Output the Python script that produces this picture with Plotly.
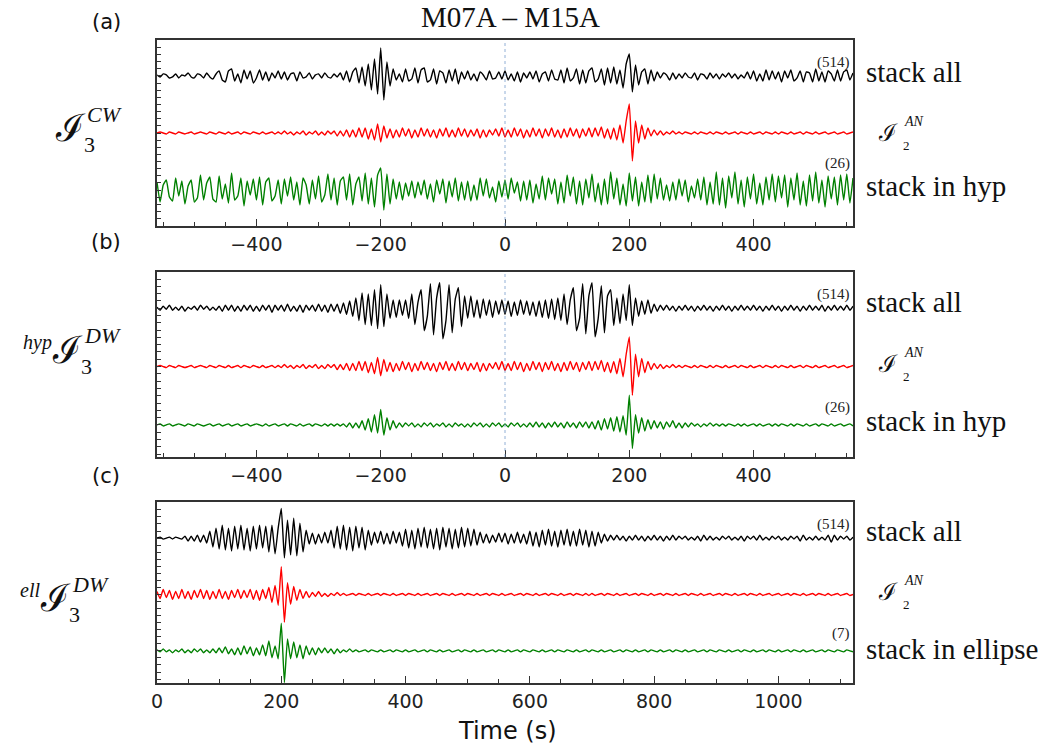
import numpy as np
import plotly.graph_objects as go

# ---------------- data (amplitudes, arbitrary units) ----------------
# lag time grid for panels (a),(b): -560..560 s ; panel (c): 0..1120 s (5 s sampling)
lag_time = np.arange(-560, 561, 5)
causal_time = np.arange(0, 1121, 5)

a_stack_all = (
    [1,-1,2,1,-2,-1,2,-2,1,0,3,-1,-2,2,1,-2,3,-1,-3,2] +
    [5,-4,-6,5,7,-5,2,-7,6,-3,5,-7,-2,6,-4,4,-5,3,-2,5] +
    [-3,4,-4,2,3,-5,4,-2,-1,3,-3,1,2,-2,3,-1,-2,2,-1,3] +
    [-4,5,-6,4,8,-7,9,-10,12,-14,17,-18,28,-24,14,-10,7,-4,2,-6] +
    [7,-5,-3,8,-7,6,8,-6,-4,7,-8,5,3,-7,6,-5,7,-8,4,-3] +
    [5,-4,2,-5,4,1,-4,5,-3,-2,4,-3,5,-4,2,-5,4,-6,3,-2] +
    [4,-3,5,-6,2,4,-5,6,-3,-4,6,-7,8,-5,-2,7,-8,6,-7,5] +
    [8,-6,-3,7,-9,8,-7,9,-8,6,-12,12,22,-16,11,-9,4,7,-8,6] +
    [-5,4,-2,3,1,-4,3,-3,2,-2,3,-1,-2,3,-4,2,1,-3,3,-2] +
    [2,-3,2,-1,3,-2,2,-3,1,-2,4,-3,5,-5,2,-5,6,-4,5,-3] +
    [4,-6,5,-2,6,-5,-2,5,-6,4,3,-6,7,-5,4,-6,5,2,-5,6] +
    [-5,4,6,-4,3]
)

ab_i2an = (
    [0,1,0,-1,1,0,-1,1,0,-1,0,1,-1,0,1,0,-1,1,0,-1] +
    [1,0,-1,1,-1,0,1,-1,1,0,-1,1,0,-1,1,-1,0,1,-1,1] +
    [-1,2,-1,1,-2,1,-1,2,-2,1,-1,2,-2,1,-2,2,-1,2,-3,2] +
    [-3,3,-4,3,-4,5,-4,5,-6,4,-7,9,-9,7,-5,4,-5,3,-4,5] +
    [-3,4,-5,3,-4,5,-3,4,-4,3,-5,4,-3,5,-4,3,-4,5,-3,4] +
    [-4,3,-3,4,-5,3,-4,3,-2,4,-3,5,-4,3,-4,5,-3,4,-5,3] +
    [-4,5,-3,4,-5,4,-3,5,-4,3,-5,4,-4,5,-3,4,-5,4,-3,5] +
    [-4,5,-3,6,-5,4,-6,5,-7,8,-10,12,29,-28,12,-10,8,-6,5,-3] +
    [3,-2,2,-2,1,-1,2,-1,1,-1,1,0,-1,1,-1,1,0,-1,1,-1] +
    [1,0,-1,1,-1,0,1,-1,1,0,-1,1,-1,0,1,-1,1,0,-1,1] +
    [-1,1,0,-1,1,-1,0,1,-1,1,0,-1,1,-1,0,1,-1,0,1,-1] +
    [0,1,-1,0,1]
)

a_stack_hyp = (
    [8,-12,5,10,-7,-11,12,-6,9,-14,4,10,-12,-8,15,-10,7,13,-9,-12] +
    [14,-9,6,-13,17,-10,-6,12,-16,9,-5,11,-10,13,-15,8,12,-11,-6,10] +
    [-14,11,-6,13,-10,8,-15,12,5,-14,10,-9,14,-12,-5,16,-10,12,-15,9] +
    [13,-10,16,-15,6,13,-11,17,-14,12,-17,15,22,-20,16,-14,11,-9,8,-10] +
    [7,-6,9,-8,8,-5,10,-9,6,-12,10,-4,11,-13,9,-7,12,-11,8,-10] +
    [9,-11,5,-10,12,-6,11,-8,3,-12,9,-7,10,-9,12,-3,8,-11,9,-10] +
    [10,-13,6,-9,14,-10,12,-4,11,-14,8,-13,15,-6,13,-14,9,-15,11,-8] +
    [16,-12,7,-15,11,-14,18,-9,12,-15,6,-16,17,-11,13,-16,8,-12,15,-13] +
    [16,-9,12,-10,5,-11,8,-10,11,-6,10,-12,4,-8,11,-10,13,-15,8,-14] +
    [18,-15,12,-18,14,-8,18,-14,10,-17,13,-9,16,-14,7,-15,13,-10,16,-12] +
    [14,-8,15,-17,12,-10,17,-15,9,-16,15,-11,18,-13,10,-17,14,-9,13,-15] +
    [15,-10,16,-13,12]
)

b_stack_all = (
    [1,-2,2,-1,3,-2,1,-2,2,-3,1,-1,2,-2,3,-1,2,-2,1,-2] +
    [2,-3,3,-2,3,-3,2,-3,3,-2,3,-3,2,-3,3,-2,3,-4,3,-2] +
    [3,-3,4,-3,2,-3,3,-4,3,-2,3,-3,4,-3,3,-4,4,-3,4,-5] +
    [5,-6,7,-8,10,-12,15,-16,14,-17,18,-20,23,-18,14,-10,8,-9,8,-7] +
    [8,-10,14,-16,6,18,-22,-8,24,-26,10,25,-30,-12,23,-24,9,20,-18,12] +
    [-10,12,-9,8,-10,9,-7,8,-9,7,-6,8,-6,7,-8,6,-7,8,-6,7] +
    [-7,6,-8,7,-9,8,-10,9,-11,10,-12,14,-16,8,20,-22,-10,24,-25,12] +
    [25,-28,-10,22,-24,12,18,-17,10,-15,14,-12,23,-17,10,-8,7,-6,8,-5] +
    [4,-3,3,-2,3,-2,2,-3,2,-2,3,-2,2,-3,2,-2,3,-2,2,-3] +
    [2,-2,3,-2,2,-3,2,-2,3,-2,2,-2,3,-2,2,-3,2,-2,3,-2] +
    [2,-3,2,-2,3,-2,2,-3,2,-2,3,-2,2,-2,3,-3,2,-2,3,-2] +
    [2,-2,3,-2,2]
)

b_stack_hyp = (
    [0,1,-1,0,1,-1,0,1,0,-1,1,0,-1,1,0,-1,0,1,-1,0] +
    [1,-1,0,1,-1,0,1,-1,0,1,-1,0,1,0,-1,1,-1,0,1,-1] +
    [0,1,-1,1,0,-1,1,-1,0,1,-1,1,0,-1,1,-1,1,-1,1,-1] +
    [1,-2,2,-3,2,-3,4,-5,6,-7,10,-8,15,-10,7,-5,4,-3,2,-2] +
    [2,-1,2,-2,1,-2,2,-1,2,-2,1,-1,2,-2,1,-2,2,-1,1,-2] +
    [1,-2,2,-1,2,-2,1,-2,2,-1,2,-2,1,-2,2,-1,2,-2,1,-2] +
    [2,-2,3,-2,2,-3,2,-2,3,-2,2,-3,3,-2,2,-3,3,-2,3,-3] +
    [3,-4,4,-5,6,-4,7,-6,8,-7,9,-10,29,-23,10,-8,7,-6,5,-4] +
    [4,-3,3,-4,3,-2,4,-3,2,-3,2,-2,2,-1,1,-2,1,-1,2,-1] +
    [1,-1,1,-1,1,0,-1,1,-1,1,-1,0,1,-1,1,-1,0,1,-1,1] +
    [-1,1,0,-1,1,-1,1,0,-1,1,-1,0,1,-1,1,0,-1,1,-1,0] +
    [1,-1,0,1,-1]
)

c_stack_all = (
    [0,1,-1,0,1,-1,1,0,-1,2,-3,2,-3,3,-4,3,-5,7,-9,10] +
    [-11,13,-12,10,-13,12,-11,13,-12,10,-13,12,-11,13,-10,12,-14,13,-16,10] +
    [30,-20,18,-17,20,-18,15,-14,8,-6,5,-6,4,-5,6,-5,8,-10,12,-11] +
    [13,-12,11,-13,12,-10,11,-12,8,-7,6,-5,7,-6,5,-6,7,-5,6,-8] +
    [9,-10,8,-11,10,-9,11,-10,9,-11,10,-12,11,-9,10,-11,9,-10,11,-9] +
    [10,-8,9,-7,6,-5,4,-5,3,-4,5,-4,5,-6,4,-5,6,-5,4,-6] +
    [7,-8,6,-9,8,-7,9,-8,7,-9,8,-7,9,-8,7,-8,9,-7,8,-9] +
    [7,-8,6,-5,4,-3,3,-2,3,-2,2,-3,2,-2,3,-2,2,-3,2,-2] +
    [3,-2,2,-3,2,-2,3,-2,2,-1,2,-2,1,-2,2,-3,3,-2,2,-2] +
    [1,-2,2,-1,2,-2,1,-2,2,-3,2,-1,2,-2,3,-2,1,-2,2,-1] +
    [2,-2,1,-2,2,-1,2,-3,3,-2,1,-2,2,-2,1,-2,3,-4,3,-2] +
    [2,-1,2,-2,1]
)

c_i2an = (
    [3,-4,5,-3,4,-5,3,-4,5,-4,3,-5,4,-3,5,-4,4,-5,3,-4] +
    [5,-4,3,-5,4,-3,5,-4,4,-3,5,-5,4,-6,5,-4,7,-8,9,-11] +
    [28,-28,12,-10,8,-6,5,-4,3,-3,2,-2,3,-2,1,-2,1,-1,2,-1] +
    [1,-1,0,1,-1,1,0,-1,1,-1,0,1,-1,1,0,-1,1,-1,0,1] +
    [-1,1,0,-1,1,-1,0,1,-1,0,1,-1,1,0,-1,1,-1,0,1,-1] +
    [1,0,-1,1,-1,0,1,-1,1,0,-1,1,-1,0,1,-1,0,1,-1,1] +
    [0,-1,1,-1,0,1,-1,1,0,-1,1,-1,0,1,-1,1,0,-1,1,-1] +
    [1,-1,0,1,-1,1,0,-1,1,-1,0,1,-1,0,1,-1,1,0,-1,1] +
    [-1,0,1,-1,1,0,-1,1,-1,0,1,-1,1,0,-1,1,-1,0,1,-1] +
    [0,1,-1,1,0,-1,1,-1,0,1,-1,1,0,-1,1,-1,0,1,-1,0] +
    [1,-1,0,1,-1,1,0,-1,1,-1,0,1,-1,1,0,-1,1,-1,0,1] +
    [-1,0,1,-1,0]
)

c_stack_ellipse = (
    [1,-1,2,-1,1,-2,1,-1,2,-2,1,-2,2,-1,2,-2,1,-2,2,-2] +
    [3,-2,4,-3,2,-4,3,-4,5,-3,4,-5,3,-4,6,-5,10,-7,5,-8] +
    [28,-32,12,-8,9,-7,6,-8,5,-4,3,-4,3,-2,3,-2,2,-3,2,-2] +
    [1,-1,2,-1,1,-1,0,1,-1,1,0,-1,1,-1,0,1,-1,1,0,-1] +
    [1,-1,0,1,-1,0,1,-1,1,0,-1,1,-1,0,1,-1,0,1,-1,1] +
    [0,-1,1,-1,0,1,-1,0,1,-1,1,0,-1,1,-1,0,1,-1,1,0] +
    [-1,1,0,-1,1,-1,0,1,-1,1,0,-1,1,0,-1,1,-1,0,1,-1] +
    [1,0,-1,1,-1,0,1,-1,0,1,-1,1,0,-1,1,-1,0,1,-1,1] +
    [0,-1,1,-1,0,1,-1,1,0,-1,1,-1,0,1,-1,0,1,-1,1,0] +
    [-1,1,0,-1,1,-1,0,1,-1,1,0,-1,1,-1,0,1,-1,1,0,-1] +
    [1,-1,0,1,-1,1,0,-1,1,-1,0,1,-1,0,1,-1,1,0,-1,1] +
    [0,-1,1,0,-1]
)

stack_counts = {"a": ("(514)", "(26)"), "b": ("(514)", "(26)"), "c": ("(514)", "(7)")}
x_ticks_lag = [-400, -200, 0, 200, 400]
x_ticks_causal = [0, 200, 400, 600, 800, 1000]

for name, arr in [("a_stack_all", a_stack_all), ("ab_i2an", ab_i2an), ("a_stack_hyp", a_stack_hyp),
                  ("b_stack_all", b_stack_all), ("b_stack_hyp", b_stack_hyp), ("c_stack_all", c_stack_all),
                  ("c_i2an", c_i2an), ("c_stack_ellipse", c_stack_ellipse)]:
    assert len(arr) == 225, (name, len(arr))

# ---------------- figure ----------------
AMP = 57.0  # amplitude units per trace spacing
BLACK, RED, GREEN = "#000000", "#ff0000", "#008000"

fig = go.Figure()

def add_trace(x, vals, offset, color, ax):
    fig.add_trace(go.Scatter(
        x=x, y=offset + np.asarray(vals, float) / AMP, mode="lines",
        line=dict(color=color, width=1.4, shape="spline", smoothing=0.4),
        xaxis=ax[0], yaxis=ax[1], hoverinfo="skip"))

add_trace(lag_time, a_stack_all, 2, BLACK, ("x", "y"))
add_trace(lag_time, ab_i2an, 1, RED, ("x", "y"))
add_trace(lag_time, a_stack_hyp, 0, GREEN, ("x", "y"))
add_trace(lag_time, b_stack_all, 2, BLACK, ("x2", "y2"))
add_trace(lag_time, ab_i2an, 1, RED, ("x2", "y2"))
add_trace(lag_time, b_stack_hyp, 0, GREEN, ("x2", "y2"))
add_trace(causal_time, c_stack_all, 2, BLACK, ("x3", "y3"))
add_trace(causal_time, c_i2an, 1, RED, ("x3", "y3"))
add_trace(causal_time, c_stack_ellipse, 0, GREEN, ("x3", "y3"))

L, R, T, B = 157, 853, 40, 683
W, H = 1052, 748

def yd(top, bot):
    return [(B - bot) / (B - T), (B - top) / (B - T)]

axis_line = dict(showline=True, mirror=True, linecolor="#333333", linewidth=1.5,
                 showgrid=False, zeroline=False)
xcommon = dict(axis_line, ticks="inside", ticklen=7, tickwidth=1, tickcolor="#333333",
               minor=dict(dtick=50, tick0=0, ticks="inside", ticklen=4, tickcolor="#333333"),
               tickfont=dict(family="DejaVu Sans", size=19, color="#222222"))
ycommon = dict(axis_line, ticks="inside", ticklen=4, tickcolor="#333333", dtick=0.125, tick0=0,
               showticklabels=False)

fig.update_layout(
    width=W, height=H, margin=dict(l=L, r=W - R, t=T, b=H - B),
    paper_bgcolor="white", plot_bgcolor="white", showlegend=False,
    xaxis=dict(xcommon, domain=[0, 1], anchor="y", range=[-560, 560], tickvals=x_ticks_lag),
    yaxis=dict(ycommon, domain=yd(40, 226), anchor="x", range=[-0.63, 2.63]),
    xaxis2=dict(xcommon, domain=[0, 1], anchor="y2", range=[-560, 560], tickvals=x_ticks_lag),
    yaxis2=dict(ycommon, domain=yd(272, 457), anchor="x2", range=[-0.55, 2.62]),
    xaxis3=dict(xcommon, domain=[0, 1], anchor="y3", range=[0, 1120], tickvals=x_ticks_causal),
    yaxis3=dict(ycommon, domain=yd(502, 683), anchor="x3", range=[-0.57, 2.64]),
)

for xr, yr in [("x", "y"), ("x2", "y2")]:
    fig.add_shape(type="line", xref=xr, yref=yr + " domain", x0=0, x1=0, y0=0, y1=1,
                  line=dict(color="rgba(110,150,200,0.75)", width=1, dash="dot"))

def P(x, y):
    return (x - L) / (R - L), (B - y) / (B - T)

anns = []
def text(x, y, s, size, family="Liberation Serif", xanchor="center", color="#111111"):
    px, py = P(x, y)
    anns.append(dict(x=px, y=py, xref="paper", yref="paper", text=s, showarrow=False,
                     xanchor=xanchor, yanchor="middle", borderpad=0,
                     font=dict(family=family, size=size, color=color)))

# counts
for ax, (top_lbl, bot_lbl) in zip(["", "2", "3"], stack_counts.values()):
    xr = "x" + ax
    yr = "y" + ax
    xmax = 558 if ax != "3" else 1118
    anns.append(dict(x=xmax, y=2.24, xref=xr, yref=yr, text=top_lbl, showarrow=False,
                     xanchor="right", yanchor="middle", font=dict(family="Liberation Serif", size=15, color="#222")))
    anns.append(dict(x=xmax, y=0.3 if ax else 0.47, xref=xr, yref=yr, text=bot_lbl, showarrow=False,
                     xanchor="right", yanchor="middle", font=dict(family="Liberation Serif", size=15, color="#222")))

# title and panel letters
text(510, 17, "M07A – M15A", 29)
text(106, 22, "(a)", 21, family="DejaVu Sans")
text(106, 242, "(b)", 21, family="DejaVu Sans")
text(106, 476, "(c)", 21, family="DejaVu Sans")
text(507, 731, "Time (s)", 24, family="DejaVu Sans")

# right labels
def i2an(y):
    text(888, y + 2, "ℐ", 24, family="DejaVu Serif")
    text(903, y - 10, "<i>AN</i>", 14, xanchor="left")
    text(902, y + 14, "2", 13, xanchor="left")

for ys, lbl in [((72, 131, 186), "stack in hyp"), ((302, 362, 421), "stack in hyp"),
                ((531, 590, 649), "stack in ellipse")]:
    text(865, ys[0], "stack all", 29, xanchor="left")
    i2an(ys[1])
    text(865, ys[2], lbl, 29, xanchor="left")

# left labels
def i3(xc, y, sup, pre=None, prex=None):
    text(xc, y, "ℐ", 38, family="DejaVu Serif")
    text(xc + 16, y - 14, "<i>" + sup + "</i>", 22, xanchor="left")
    text(xc + 13, y + 16, "3", 22, xanchor="left")
    if pre:
        text(prex, y - 8, "<i>" + pre + "</i>", 20, xanchor="right")

i3(70, 128, "CW")
i3(67, 350, "DW", "hyp", 53)
i3(55, 598, "DW", "ell", 41)

fig.update_layout(annotations=anns)
fig.write_html("out.html")
